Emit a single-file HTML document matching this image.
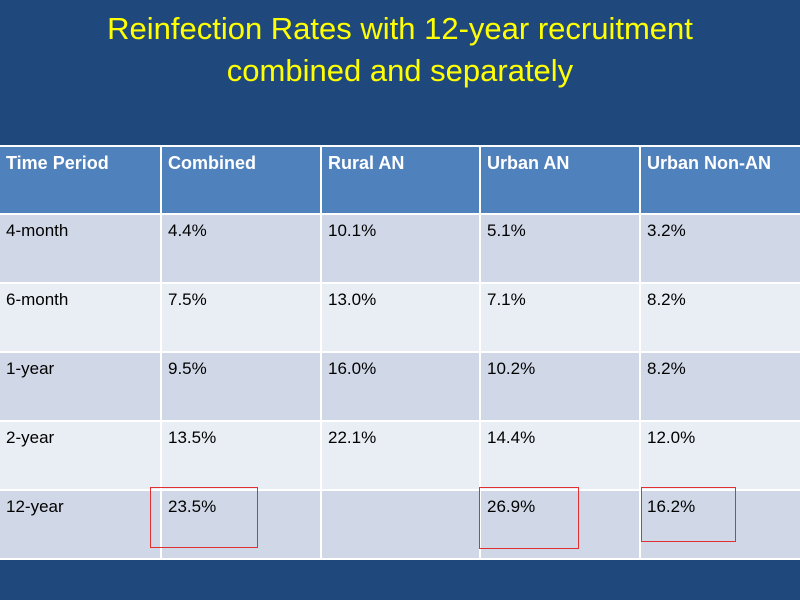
<!DOCTYPE html>
<html><head><style>
body{margin:0;width:800px;height:600px;background:#1f497d;position:relative;overflow:hidden;font-family:"Liberation Sans",sans-serif}
h1{position:absolute;top:8px;left:0;width:800px;margin:0;text-align:center;color:#ffff00;font-weight:normal;font-size:31px;line-height:42px}
table{position:absolute;left:0;top:145px;width:800px;border-collapse:collapse}
td{border:2px solid #fff;vertical-align:top;padding:6px 6px 0 6px;font-size:17px;color:#000;box-sizing:border-box}
tr.h td{background:#4f81bd;color:#fff;font-weight:bold;font-size:18px;height:68px;padding-top:6px}
tr.d td{background:#d0d8e8;height:69px}
tr.l td{background:#e9edf4;height:69px}
td:first-child{border-left:none}td:last-child{border-right:none}
.r{position:absolute;border:1.5px solid #e03030;box-sizing:border-box}
</style></head><body>
<h1>Reinfection Rates with 12-year recruitment<br>combined and separately</h1>
<table>
<colgroup><col style="width:161px"><col style="width:160px"><col style="width:159px"><col style="width:160px"><col style="width:160px"></colgroup>
<tr class="h"><td>Time Period</td><td>Combined</td><td>Rural AN</td><td>Urban AN</td><td>Urban Non-AN</td></tr>
<tr class="d"><td>4-month</td><td>4.4%</td><td>10.1%</td><td>5.1%</td><td>3.2%</td></tr>
<tr class="l"><td>6-month</td><td>7.5%</td><td>13.0%</td><td>7.1%</td><td>8.2%</td></tr>
<tr class="d"><td>1-year</td><td>9.5%</td><td>16.0%</td><td>10.2%</td><td>8.2%</td></tr>
<tr class="l"><td>2-year</td><td>13.5%</td><td>22.1%</td><td>14.4%</td><td>12.0%</td></tr>
<tr class="d"><td>12-year</td><td>23.5%</td><td></td><td>26.9%</td><td>16.2%</td></tr>
</table>
<div class="r" style="left:150px;top:487px;width:108px;height:61px"></div>
<div class="r" style="left:479px;top:487px;width:100px;height:62px"></div>
<div class="r" style="left:641px;top:487px;width:95px;height:55px"></div>
</body></html>
